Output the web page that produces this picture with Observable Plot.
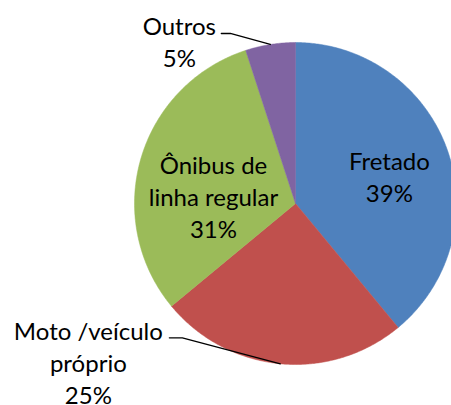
<!DOCTYPE html>
<html>
<head>
<meta charset="utf-8">
<script src="https://cdn.jsdelivr.net/npm/d3@7"></script>
<script src="https://cdn.jsdelivr.net/npm/@observablehq/plot@0.6"></script>
<style>
  html, body { margin: 0; padding: 0; background: #fff; overflow: hidden; }
  #chart svg { overflow: hidden; display: block; }
</style>
</head>
<body>
<div id="chart"></div>
<script>
// ---- data ----
const categories = ["Fretado", "Moto /veículo próprio", "Ônibus de linha regular", "Outros"];
const labelLines = [["Fretado"], ["Moto /veículo", "próprio"], ["Ônibus de", "linha regular"], ["Outros"]];
const values = [39, 25, 31, 5];
const colors = ["#4F81BD", "#C0504D", "#9BBB59", "#8064A2"];

// ---- layout (pixels) ----
const W = 451, H = 405;
const cx = 295, cy = 203, R = 161;
// label layout: radius factor along slice mid-angle + pixel tweak; outside labels get leader lines
const labelLayout = {
  "Fretado": {r: 0.6, dx: 3, dy: 5},
  "Ônibus de linha regular": {r: 0.55, dx: 3, dy: 17},
  "Outros": {r: 1, dx: -91, dy: -4, leader: [[-40, -11], [-49, -11]]},
  "Moto /veículo próprio": {r: 1, dx: -192, dy: -2, leader: [[-98, -26], [-111, -26]]}
};

const table = categories.map((c, i) => ({category: c, value: values[i], lines: labelLines[i], color: colors[i]}));
const arcs = d3.pie().sort(null).value(d => d.value)(table);

// slice outlines (tessellated arcs) in unit coordinates
const slicePts = [];
for (const a of arcs) {
  const n = Math.max(2, Math.ceil((a.endAngle - a.startAngle) / (Math.PI / 360)));
  slicePts.push({category: a.data.category, x: 0, y: 0});
  for (let k = 0; k <= n; k++) {
    const t = a.startAngle + (a.endAngle - a.startAngle) * k / n;
    slicePts.push({category: a.data.category, x: Math.sin(t), y: Math.cos(t)});
  }
  slicePts.push({category: a.data.category, x: 0, y: 0});
}

const labels = arcs.map(a => {
  const m = (a.startAngle + a.endAngle) / 2;
  const L = labelLayout[a.data.category];
  const px = Math.sin(m) * L.r, py = Math.cos(m) * L.r;
  return {
    category: a.data.category,
    text: a.data.lines.join("\n") + "\n" + a.data.value + "%",
    x: px + L.dx / R, y: py - L.dy / R,
    ax: Math.sin(m), ay: Math.cos(m), leader: L.leader
  };
});

const leaderPts = [];
for (const l of labels) {
  if (!l.leader) continue;
  leaderPts.push({category: l.category, x: l.ax, y: l.ay});
  for (const [ox, oy] of l.leader) leaderPts.push({category: l.category, x: l.ax + ox / R, y: l.ay - oy / R});
}

const chart = Plot.plot({
  width: W, height: H,
  margin: 0,
  x: {domain: [-cx / R, (W - cx) / R], axis: null},
  y: {domain: [-(H - cy) / R, cy / R], axis: null},
  color: {domain: categories, range: colors},
  style: {fontFamily: "Lato, 'Open Sans', sans-serif", background: "#fff"},
  marks: [
    Plot.line(slicePts, {x: "x", y: "y", z: "category", fill: "category", stroke: "category", strokeWidth: 0.5, curve: "linear"}),
    Plot.line(leaderPts, {x: "x", y: "y", z: "category", stroke: "black", strokeWidth: 1.3}),
    Plot.text(labels, {x: "x", y: "y", text: "text", fontSize: 24, lineHeight: 1.33, lineAnchor: "middle", textAnchor: "middle", fill: "black"})
  ]
});
document.getElementById("chart").appendChild(chart);
</script>
</body>
</html>
